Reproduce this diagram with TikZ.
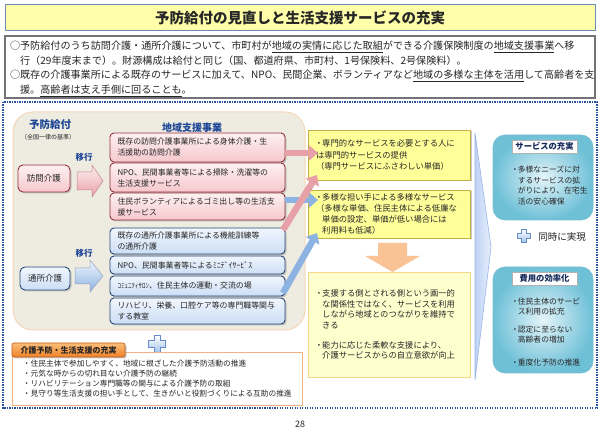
\documentclass[tikz,border=0pt]{standalone}
\usepackage{fontspec}
\setmainfont{Noto Sans CJK JP}
\usetikzlibrary{shadows,calc,arrows.meta}
\definecolor{titlefill}{RGB}{255,255,170}
\definecolor{titleedge}{RGB}{110,140,180}
\definecolor{frameblue}{RGB}{40,80,160}
\definecolor{beige}{RGB}{238,236,225}
\definecolor{beigeedge}{RGB}{245,215,185}
\definecolor{labelblue}{RGB}{30,70,150}
\definecolor{pinktop}{RGB}{253,240,241}
\definecolor{pinkbot}{RGB}{246,200,205}
\definecolor{pinkedge}{RGB}{150,50,60}
\definecolor{bluetop}{RGB}{240,246,253}
\definecolor{bluebot}{RGB}{205,222,245}
\definecolor{blueedge}{RGB}{40,70,120}
\definecolor{pinkarrow}{RGB}{232,160,168}
\definecolor{bluearrow}{RGB}{141,179,226}
\definecolor{yel}{RGB}{255,255,153}
\definecolor{yeledge}{RGB}{200,175,70}
\definecolor{paleyel}{RGB}{255,255,205}
\definecolor{paleyeledge}{RGB}{245,215,140}
\definecolor{orangearrow}{RGB}{250,195,150}
\definecolor{cyanin}{RGB}{228,244,249}
\definecolor{cyanout}{RGB}{110,192,215}
\definecolor{cyanedge}{RGB}{120,190,210}
\definecolor{navy}{RGB}{20,40,90}
\definecolor{orangetop}{RGB}{252,190,120}
\definecolor{orangebot}{RGB}{240,130,40}
\definecolor{orangeedge}{RGB}{190,90,20}
\definecolor{bottomedge}{RGB}{244,177,131}
\definecolor{wedgeedge}{RGB}{150,180,230}
\definecolor{wedgeleft}{RGB}{190,210,245}
\definecolor{wedgeright}{RGB}{232,240,252}
\definecolor{plusfill}{RGB}{160,195,235}
\definecolor{plusedge}{RGB}{100,140,200}
\newcommand{\myul}[1]{\underline{#1}}
\newcommand{\bt}{\makebox[0.75em][c]{・}}
\newcommand{\ind}{\hspace*{0.75em}}
\tikzset{pics/bplus/.style={code={\draw[draw=plusedge,line width=0.6pt,top color=white,bottom color=plusfill] (-3.2,-8.5) -- (3.2,-8.5) -- (3.2,-3.2) -- (8.5,-3.2) -- (8.5,3.2) -- (3.2,3.2) -- (3.2,8.5) -- (-3.2,8.5) -- (-3.2,3.2) -- (-8.5,3.2) -- (-8.5,-3.2) -- (-3.2,-3.2) -- cycle;}}}
\begin{document}
\begin{tikzpicture}[x=1pt,y=-1pt,
  every node/.style={inner sep=0pt,outer sep=0pt,text=black!85},
  shadowed/.style={drop shadow={shadow xshift=1.5pt,shadow yshift=-1.5pt,fill=black!35,opacity=0.6}},
  midbox/.style={shadowed,rounded corners=4pt,line width=0.9pt,minimum width=175pt,text width=160pt,align=left,font=\fontsize{7.9}{11}\selectfont},
  pinkbox/.style={midbox,draw=pinkedge,top color=pinktop,bottom color=pinkbot},
  bluebox/.style={midbox,draw=blueedge,top color=bluetop,bottom color=bluebot},
  srcbox/.style={shadowed,rounded corners=5pt,line width=0.9pt,font=\fontsize{8.5}{10}\selectfont},
  yelbox/.style={shadowed,draw=yeledge,line width=0.9pt,fill=yel,minimum width=162pt,text width=146pt,align=left,font=\fontsize{8.3}{11.2}\selectfont},
  paleyelbox/.style={draw=paleyeledge,line width=0.9pt,fill=paleyel,minimum width=162pt,text width=146pt,align=left,font=\fontsize{8.3}{10.7}\selectfont},
  bluelabel/.style={font=\bfseries\fontsize{10.5}{12}\selectfont,text=labelblue},
  movelabel/.style={font=\bfseries\fontsize{8.5}{10}\selectfont,text=labelblue},
  pinkthin/.style={draw=pinkarrow,line width=6.5pt,-{Triangle[length=9pt,width=15pt]}},
  bluethin/.style={draw=bluearrow,line width=6.5pt,-{Triangle[length=9pt,width=15pt]}},
  rbox/.style={rounded corners=12pt,draw=cyanedge,line width=0.6pt,inner color=cyanin,outer color=cyanout,minimum width=100pt},
  rhead/.style={draw=black!30,fill=white,minimum width=65pt,minimum height=13pt,font=\bfseries\fontsize{8.3}{10}\selectfont,text=navy},
  rtext/.style={anchor=north west,align=left,font=\fontsize{7.8}{10.5}\selectfont}
]
\useasboundingbox (0,0) rectangle (600,430);
\fill[white] (0,0) rectangle (600,430);

% title and introduction
\node (title) [draw=titleedge,line width=1pt,fill=titlefill,minimum width=590pt,minimum height=26pt,font=\bfseries\fontsize{14.5}{16}\selectfont] at (300,18) {予防給付の見直しと生活支援サービスの充実};
\node (intro) [draw=black!55,line width=1.2pt,fill=white,minimum width=590pt,minimum height=62pt] at (300,67) {};
\node (introtext) [anchor=north west,align=left,font=\fontsize{10.1}{14.7}\selectfont] at (10,41) {○予防給付のうち訪問介護・通所介護について、市町村が\myul{地域の実情に応じた取組}ができる介護保険制度の\myul{地域支援事業}へ移\\
\hspace*{1em}行（29年度末まで）。財源構成は給付と同じ（国、都道府県、市町村、1号保険料、2号保険料）。\\
○既存の介護事業所による既存のサービスに加えて、NPO、民間企業、ボランティアなど\myul{地域の多様な主体を活用}して高齢者を支\\
\hspace*{1em}援。\myul{高齢者は支え手側に回ることも}。};

% dotted frame
\draw[frameblue,line width=1.2pt,dash pattern=on 1.2pt off 1.3pt] (3,102) rectangle (597,408);

% beige region
\node (region) [draw=beigeedge,line width=1pt,fill=beige,rounded corners=20pt,minimum width=292pt,minimum height=218pt] at (159,221) {};
\node (yobo) [bluelabel] at (50,125) {予防給付};
\node (kijun) [font=\fontsize{6}{7}\selectfont] at (48,137) {（全国一律の基準）};
\node (chiiki) [bluelabel,font=\bfseries\fontsize{10}{12}\selectfont] at (192,128) {地域支援事業};
\node (ikou1) [movelabel] at (84,157) {移行};
\node (ikou2) [movelabel] at (84,253) {移行};

\node (houmon) [srcbox,draw=pinkedge,top color=pinktop,bottom color=pinkbot,minimum width=52pt,minimum height=27pt] at (44,178.5) {訪問介護};
\node (tsusho) [srcbox,draw=blueedge,top color=bluetop,bottom color=bluebot,minimum width=50pt,minimum height=23pt] at (45,278.5) {通所介護};

% fat arrows
\draw[draw=pinkedge!60,line width=0.5pt,top color=pinktop,bottom color=pinkarrow] (77,172) -- (92,172) -- (92,165) -- (103,181) -- (92,197) -- (92,190) -- (77,190) -- cycle;
\draw[draw=blueedge!50,line width=0.5pt,top color=bluetop,bottom color=bluearrow] (75,268) -- (90,268) -- (90,260) -- (103,276) -- (90,292) -- (90,284) -- (75,284) -- cycle;

% middle boxes
\node (p1) [pinkbox,minimum height=29pt] at (197.5,147.5) {既存の訪問介護事業所による身体介護・生\\活援助の訪問介護};
\node (p2) [pinkbox,minimum height=29pt] at (197.5,177.5) {NPO、民間事業者等による掃除・洗濯等の\\生活支援サービス};
\node (p3) [pinkbox,minimum height=27pt] at (197.5,206.5) {住民ボランティアによるゴミ出し等の生活支\\援サービス};
\node (b1) [bluebox,minimum height=26pt] at (197.5,241) {既存の通所介護事業所による機能訓練等\\の通所介護};
\node (b2) [bluebox,minimum height=18pt] at (197.5,265) {NPO、民間事業者等によるﾐﾆﾃﾞｲｻｰﾋﾞｽ};
\node (b3) [bluebox,minimum height=20pt] at (197.5,286) {{\fontsize{7}{11}\selectfont ｺﾐｭﾆﾃｨｻﾛﾝ}、住民主体の運動・交流の場};
\node (b4) [bluebox,minimum height=26pt] at (197.5,311) {リハビリ、栄養、口腔ケア等の専門職等関与\\する教室};

% wedge
\draw[wedgeedge,line width=0.6pt,left color=wedgeleft,right color=wedgeright] (475,133) -- (491,247) -- (475,380) -- cycle;

% yellow boxes
\node (y1) [yelbox,minimum height=50pt] at (389,155) {\bt 専門的なサービスを必要とする人に\\は専門的サービスの提供\\（専門サービスにふさわしい単価）};
\node (y2) [yelbox,minimum height=48pt] at (389,214) {\bt 多様な担い手による多様なサービス\\（多様な単価、住民主体による低廉な\\\ind 単価の設定、単価が低い場合には\\\ind 利用料も低減）};
\node (y3) [paleyelbox,minimum height=105pt] at (389,324.5) {\bt 支援する側とされる側という画一的\\\ind な関係性ではなく、サービスを利用\\\ind しながら地域とのつながりを維持で\\\ind きる\\[9pt]\bt 能力に応じた柔軟な支援により、\\\ind 介護サービスからの自立意欲が向上};
\fill[orangearrow] (378,243) -- (407,243) -- (407,256) -- (420,256) -- (392.5,272) -- (365,256) -- (378,256) -- cycle;

% connectors
\draw[pinkthin] ($(p1.east)+(0,5.5)$) -- ($(y1.west)+(10,-2)$);
\draw[bluethin] ($(p3.east)+(0,-6.5)$) -- ($(y2.west)+(10,-14)$);
\draw[pinkthin] ($(b1.north east)+(-2,2)$) -- ($(y1.south west)+(9,-5)$);
\draw[bluethin] ($(b3.east)+(-2,7)$) -- ($(y2.south west)+(9,-5)$);

% right boxes
\node (r1) [rbox,minimum height=85pt] at (543,177.5) {};
\node (r1h) [rhead] at (544.5,146.5) {サービスの充実};
\node (r1t) [rtext] at (512,166) {\bt 多様なニーズに対\\\ind するサービスの拡\\\ind がりにより、在宅生\\\ind 活の安心確保};
\pic[scale=0.76] (plusB) at (524,236) {bplus};
\node (doji) [font=\fontsize{9.5}{11}\selectfont] at (562,237) {同時に実現};
\node (r2) [rbox,minimum height=106pt] at (543,320) {};
\node (r2h) [rhead] at (544.5,278.5) {費用の効率化};
\node (r2t) [rtext,font=\fontsize{7.8}{10}\selectfont] at (512,298) {\bt 住民主体のサービ\\\ind ス利用の拡充\\[8pt]\bt 認定に至らない\\\ind 高齢者の増加\\[13pt]\bt 重度化予防の推進};

% bottom section
\pic (plusA) at (157,344) {bplus};
\node (bbox) [draw=bottomedge,line width=0.9pt,fill=white,minimum width=290pt,minimum height=53pt,text width=268pt,align=left,font=\fontsize{7.7}{10}\selectfont] at (157,378.5) {・住民主体で参加しやすく、地域に根ざした介護予防活動の推進\\・元気な時からの切れ目ない介護予防の継続\\・リハビリテーション専門職等の関与による介護予防の取組\\・見守り等生活支援の担い手として、生きがいと役割づくりによる互助の推進};
\node (bhead) [shadowed,draw=orangeedge,line width=0.6pt,rounded corners=2pt,top color=orangetop,bottom color=orangebot,minimum width=113pt,minimum height=14pt,font=\bfseries\fontsize{8}{10}\selectfont] at (68.5,350) {介護予防・生活支援の充実};

\node (pg) [font=\fontsize{9}{10}\selectfont] at (300,424) {28};
\end{tikzpicture}
\end{document}
